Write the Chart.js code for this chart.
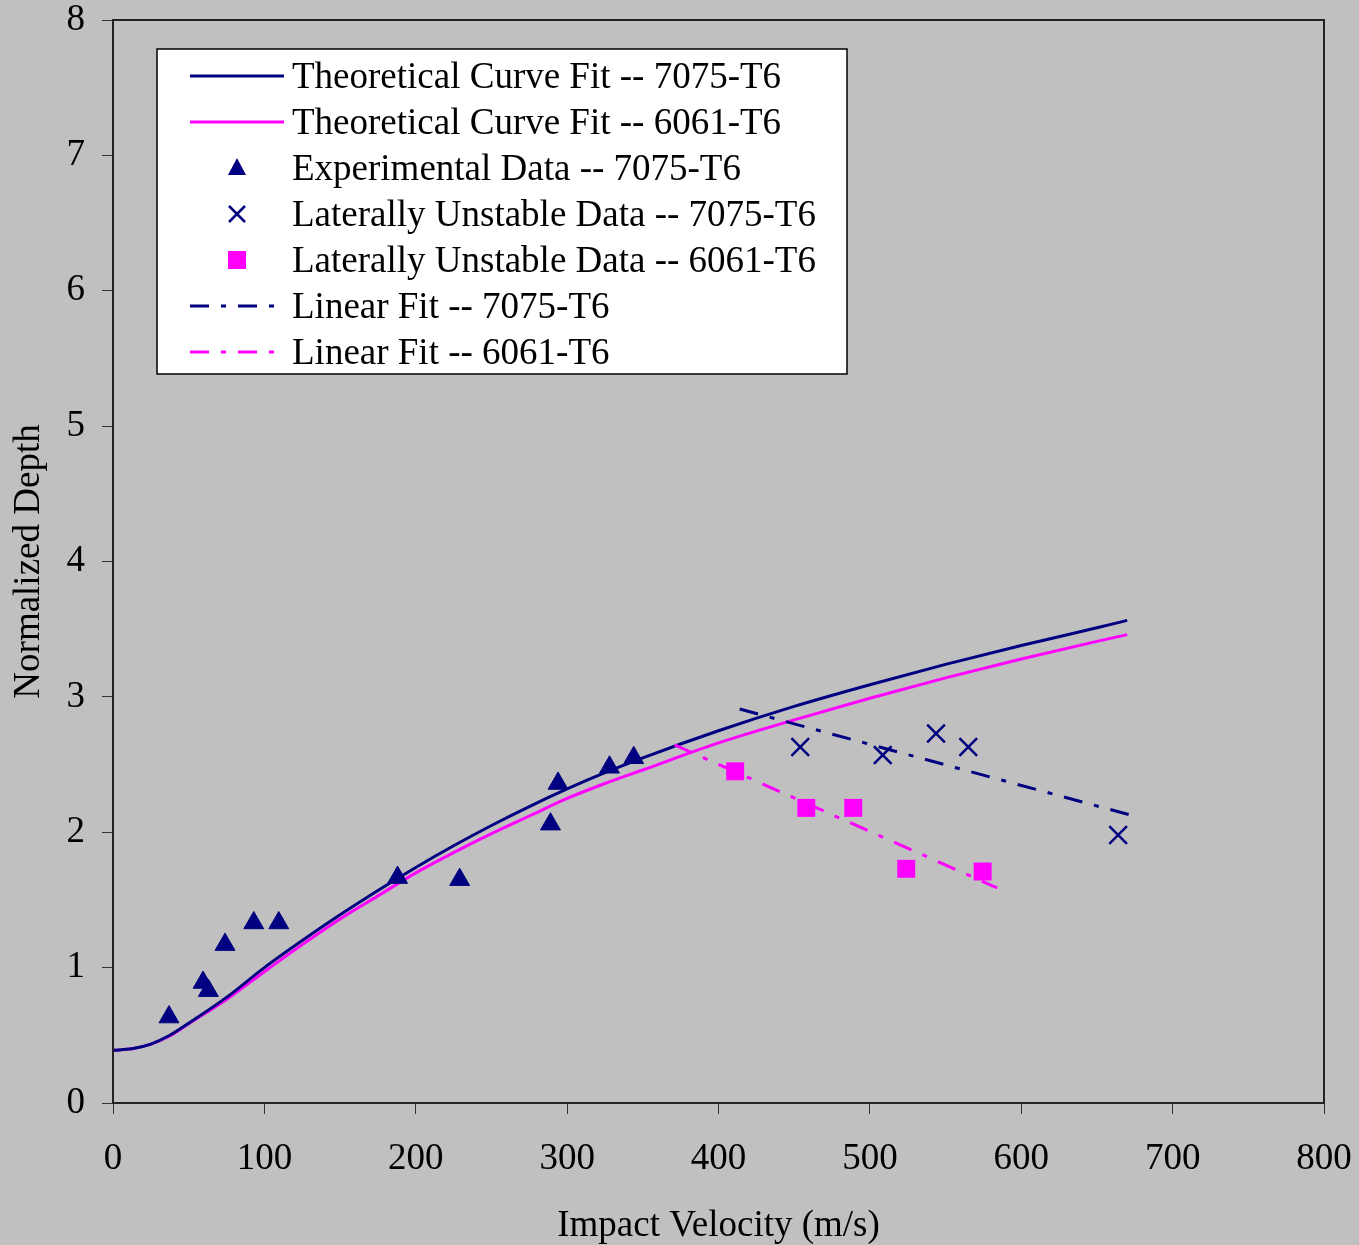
<!DOCTYPE html>
<html>
<head>
<meta charset="utf-8">
<script src="https://cdn.jsdelivr.net/npm/chart.js@4/dist/chart.umd.min.js"></script>
<style>
  body { margin: 0; background: #c0c0c0; }
  #wrap { width: 1359px; height: 1245px; }
</style>
</head>
<body>
<div id="wrap"><canvas id="depthChart" width="1359" height="1245"></canvas></div>
<script>
// theoretical curves
var curveV = [0, 12.5, 25, 37.5, 50, 75, 100, 125, 150, 175, 200, 225, 250, 275, 300, 325, 350, 400, 450, 500, 550, 600, 650, 670];
var curve7075 = [0.39, 0.40, 0.435, 0.50, 0.59, 0.78, 1.00, 1.20, 1.39, 1.57, 1.74, 1.90, 2.05, 2.19, 2.32, 2.44, 2.55, 2.75, 2.93, 3.09, 3.24, 3.38, 3.51, 3.565];
var curve6061 = [0.39, 0.40, 0.435, 0.495, 0.585, 0.765, 0.97, 1.17, 1.36, 1.53, 1.70, 1.85, 1.99, 2.12, 2.25, 2.36, 2.46, 2.66, 2.83, 2.99, 3.14, 3.28, 3.41, 3.46];

// experimental data 7075-T6
var expV = [37, 59.5, 63, 74, 93, 109.5, 188, 229, 289, 294, 328, 344];
var expD = [0.635, 0.89, 0.83, 1.17, 1.33, 1.33, 1.665, 1.65, 2.06, 2.36, 2.48, 2.55];

// laterally unstable 7075-T6
var unst7075V = [454, 508.5, 543.7, 565, 664];
var unst7075D = [2.63, 2.57, 2.73, 2.63, 1.98];

// laterally unstable 6061-T6
var unst6061V = [411, 458, 489, 524, 574.5];
var unst6061D = [2.45, 2.18, 2.18, 1.73, 1.71];

// linear fits (end points)
var fit7075V = [414, 674.5];
var fit7075D = [2.91, 2.12];
var fit6061V = [371, 584];
var fit6061D = [2.645, 1.59];

var xTicks = [0, 100, 200, 300, 400, 500, 600, 700, 800];
var yTicks = [0, 1, 2, 3, 4, 5, 6, 7, 8];

var NAVY = '#000080';
var MAGENTA = '#ff00ff';
var FONT = '"Liberation Serif", "Times New Roman", serif';
var DASHDOT = [19, 12, 5, 12];

function pts(xs, ys) {
    return xs.map(function (x, i) { return { x: x, y: ys[i] }; });
}

// box round the plot area
var frame = {
    id: 'frame',
    afterDraw: function (chart) {
        var a = chart.chartArea, ctx = chart.ctx;
        ctx.save();
        ctx.strokeStyle = '#222';
        ctx.lineWidth = 2;
        ctx.strokeRect(a.left, a.top, a.right - a.left, a.bottom - a.top);
        ctx.restore();
    }
};

// legend drawn inside the plot, as in the original
var boxLegend = {
    id: 'boxLegend',
    afterDraw: function (chart) {
        var a = chart.chartArea, ctx = chart.ctx;
        var bx = a.left + 44, by = a.top + 29, bw = 690, bh = 325;
        ctx.save();
        ctx.fillStyle = '#fff';
        ctx.fillRect(bx, by, bw, bh);
        ctx.strokeStyle = '#000';
        ctx.lineWidth = 1.5;
        ctx.strokeRect(bx, by, bw, bh);
        ctx.font = '37px ' + FONT;
        ctx.textBaseline = 'middle';
        ctx.fillStyle = '#000';
        chart.data.datasets.forEach(function (ds, i) {
            var y = by + 27 + i * 46;
            var sx = bx + 33, ex = bx + 127, mx = bx + 80;
            ctx.save();
            if (ds.showLine) {
                ctx.strokeStyle = ds.borderColor;
                ctx.lineWidth = ds.borderWidth;
                ctx.setLineDash(ds.borderDash || []);
                ctx.beginPath();
                ctx.moveTo(sx, y);
                ctx.lineTo(ex, y);
                ctx.stroke();
            } else if (ds.pointStyle === 'triangle') {
                ctx.fillStyle = ds.backgroundColor;
                ctx.beginPath();
                ctx.moveTo(mx, y - 10);
                ctx.lineTo(mx + 9, y + 7);
                ctx.lineTo(mx - 9, y + 7);
                ctx.closePath();
                ctx.fill();
            } else if (ds.pointStyle === 'crossRot') {
                ctx.strokeStyle = ds.borderColor;
                ctx.lineWidth = 2.5;
                ctx.beginPath();
                ctx.moveTo(mx - 8, y - 8); ctx.lineTo(mx + 8, y + 8);
                ctx.moveTo(mx + 8, y - 8); ctx.lineTo(mx - 8, y + 8);
                ctx.stroke();
            } else {
                ctx.fillStyle = ds.backgroundColor;
                ctx.fillRect(mx - 9, y - 9, 18, 18);
            }
            ctx.restore();
            ctx.fillText(ds.label, bx + 135, y + 2);
        });
        ctx.restore();
    }
};

new Chart(document.getElementById('depthChart').getContext('2d'), {
    type: 'scatter',
    data: {
        datasets: [
            {
                label: 'Theoretical Curve Fit -- 7075-T6',
                data: pts(curveV, curve7075),
                showLine: true, borderColor: NAVY, borderWidth: 3,
                pointRadius: 0, cubicInterpolationMode: 'monotone', order: 2
            },
            {
                label: 'Theoretical Curve Fit -- 6061-T6',
                data: pts(curveV, curve6061),
                showLine: true, borderColor: MAGENTA, borderWidth: 3,
                pointRadius: 0, cubicInterpolationMode: 'monotone', order: 3
            },
            {
                label: 'Experimental Data -- 7075-T6',
                data: pts(expV, expD),
                pointStyle: 'triangle', pointRadius: 11.5,
                backgroundColor: NAVY, borderColor: NAVY, borderWidth: 1, order: 0
            },
            {
                label: 'Laterally Unstable Data -- 7075-T6',
                data: pts(unst7075V, unst7075D),
                pointStyle: 'crossRot', pointRadius: 12.5,
                backgroundColor: NAVY, borderColor: NAVY, borderWidth: 2.5, order: 0
            },
            {
                label: 'Laterally Unstable Data -- 6061-T6',
                data: pts(unst6061V, unst6061D),
                pointStyle: 'rect', pointRadius: 12.7,
                backgroundColor: MAGENTA, borderColor: MAGENTA, borderWidth: 0, order: 0
            },
            {
                label: 'Linear Fit -- 7075-T6',
                data: pts(fit7075V, fit7075D),
                showLine: true, borderColor: NAVY, borderWidth: 3, borderDash: DASHDOT,
                pointRadius: 0, order: 1
            },
            {
                label: 'Linear Fit -- 6061-T6',
                data: pts(fit6061V, fit6061D),
                showLine: true, borderColor: MAGENTA, borderWidth: 3, borderDash: DASHDOT,
                pointRadius: 0, order: 1
            }
        ]
    },
    options: {
        responsive: false,
        animation: false,
        layout: { padding: { top: 20, right: 35, left: 0, bottom: 0 } },
        plugins: {
            legend: { display: false },
            tooltip: { enabled: false }
        },
        scales: {
            x: {
                type: 'linear', min: 0, max: 800,
                afterBuildTicks: function (s) { s.ticks = xTicks.map(function (v) { return { value: v }; }); },
                afterFit: function (s) { s.height = 142; s.paddingLeft = 0; s.paddingRight = 0; },
                border: { display: true, color: '#000', width: 2 },
                grid: { drawOnChartArea: false, drawTicks: true, tickLength: 11, color: '#333' },
                ticks: { color: '#000', padding: 27, maxRotation: 0, font: { family: FONT, size: 37, lineHeight: 1 } },
                title: {
                    display: true, text: 'Impact Velocity (m/s)', color: '#000',
                    font: { family: FONT, size: 37, lineHeight: 1 }, padding: { top: 0, bottom: 0 }
                }
            },
            y: {
                type: 'linear', min: 0, max: 8,
                afterBuildTicks: function (s) { s.ticks = yTicks.map(function (v) { return { value: v }; }); },
                afterFit: function (s) { s.width = 113; s.paddingTop = 0; s.paddingBottom = 0; },
                border: { display: true, color: '#000', width: 2 },
                grid: { drawOnChartArea: false, drawTicks: true, tickLength: 11, color: '#333' },
                ticks: { color: '#000', padding: 17, font: { family: FONT, size: 37, lineHeight: 1 } },
                title: {
                    display: true, text: 'Normalized Depth', color: '#000',
                    font: { family: FONT, size: 37, lineHeight: 1.2 }, padding: { top: 7, bottom: 0 }
                }
            }
        }
    },
    plugins: [frame, boxLegend]
});
</script>
</body>
</html>
